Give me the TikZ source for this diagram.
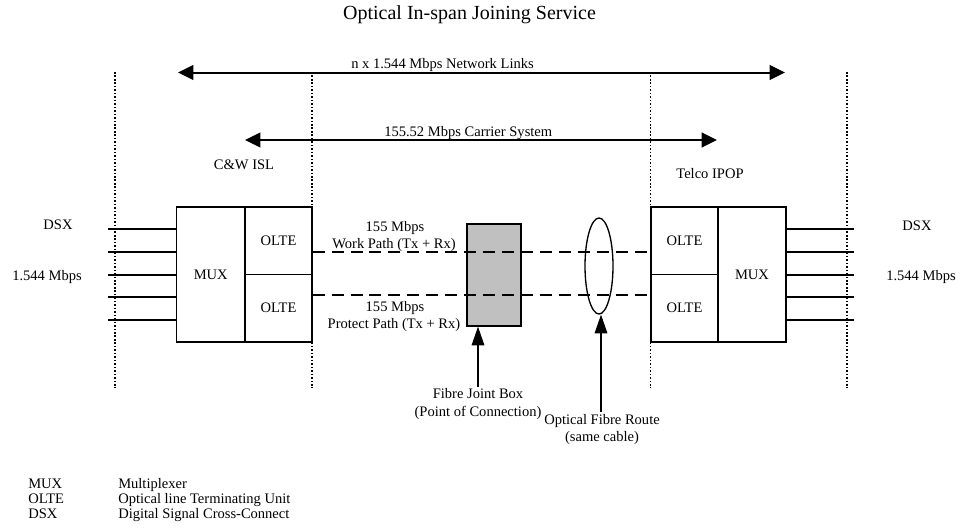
\documentclass[tikz,border=0pt]{standalone}
\usepackage{fontspec}
\setmainfont{Liberation Serif}
\usetikzlibrary{arrows.meta,shapes.geometric}
\begin{document}
\begin{tikzpicture}[x=0.75pt,y=-0.75pt,
  lbl/.style={font=\fontsize{10.9}{12}\selectfont, inner sep=0pt, anchor=base},
  blk/.style={draw, line width=1pt, inner sep=0pt, font=\fontsize{10.9}{12}\selectfont},
  vdot/.style={line width=0.9pt, dash pattern=on 1.2pt off 1.4pt},
  fib/.style={line width=1.1pt, dash pattern=on 9pt off 5.2pt},
  wire/.style={line width=1.1pt},
  big/.style={line width=1.5pt, {Triangle[length=11.5pt,width=11pt]}-{Triangle[length=11.5pt,width=11pt]}},
  ptr/.style={line width=0.8pt, -{Triangle[length=14pt,width=9.5pt]}}]
\useasboundingbox (0,0) rectangle (956,529);

% title
\node[lbl, font=\fontsize{15}{17}\selectfont] (title) at (469.5,19.5) {Optical In-span Joining Service};

% dotted boundaries
\coordinate (d1t) at (115,72);  \coordinate (d1b) at (115,388);
\coordinate (d2t) at (312,72);  \coordinate (d2b) at (312,388);
\coordinate (d3t) at (650.5,72);\coordinate (d3b) at (650.5,388);
\coordinate (d4t) at (847,72);  \coordinate (d4b) at (847,388);
\draw[vdot] (d1t) -- (d1b);
\draw[vdot] (d2t) -- (d2b);
\draw[vdot] (d3t) -- (d3b);
\draw[vdot] (d4t) -- (d4b);

% span arrows
\coordinate (na) at (178,72.5); \coordinate (nb) at (785,72.5);
\draw[big] (na) -- (nb);
\node[lbl, anchor=base west] (nlab) at (351,68.5) {n x 1.544 Mbps Network Links};
\coordinate (ca) at (245,140); \coordinate (cb) at (717,140);
\draw[big] (ca) -- (cb);
\node[lbl, anchor=base west] (clab) at (384,136) {155.52 Mbps Carrier System};

\node[lbl] (cw) at (244,169) {C\&W ISL};
\node[lbl] (telco) at (710,178) {Telco IPOP};

% left equipment
\node[blk, minimum width=51.4pt, minimum height=101.25pt] (lmux) at (210.75,274.5) {MUX};
\node[blk, minimum width=50.25pt, minimum height=50.6pt] (lo1) at (278.5,240.75) {OLTE};
\node[blk, minimum width=50.25pt, minimum height=50.6pt] (lo2) at (278.5,308.25) {OLTE};

% right equipment
\node[blk, minimum width=50.25pt, minimum height=50.6pt] (ro1) at (684.5,240.75) {OLTE};
\node[blk, minimum width=50.25pt, minimum height=50.6pt] (ro2) at (684.5,308.25) {OLTE};
\node[blk, minimum width=51pt, minimum height=101.25pt] (rmux) at (752,274.5) {MUX};

% DSX wires
\foreach \i/\y in {1/229,2/252,3/275,4/297,5/320}{
  \coordinate (lw\i) at (108,\y);
  \coordinate (rw\i) at (854,\y);
  \draw[wire] (lw\i) -- (lw\i -| lmux.west);
  \draw[wire] (rmux.east |- rw\i) -- (rw\i);
}
\node[lbl] (ldsx) at (58,229) {DSX};
\node[lbl] (lrate) at (47,280) {1.544 Mbps};
\node[lbl] (rdsx) at (917,230) {DSX};
\node[lbl] (rrate) at (921,280) {1.544 Mbps};

% joint box (under the fibre paths)
\node[draw, line width=1pt, fill={rgb,255:red,192;green,192;blue,192}, minimum width=40.5pt, minimum height=76.5pt, inner sep=0pt] (jbox) at (494,275) {};

% fibre paths
\coordinate (wk) at (480,252);
\coordinate (pr) at (480,295);
\draw[fib] (lo1.east |- wk) -- (ro1.west |- wk);
\draw[fib] (lo2.east |- pr) -- (ro2.west |- pr);
\node[lbl] (w1) at (395,231) {155 Mbps};
\node[lbl] (w2) at (394,248) {Work Path (Tx + Rx)};
\node[lbl] (p1) at (395,311) {155 Mbps};
\node[lbl] (p2) at (394,328) {Protect Path (Tx + Rx)};

% cable ellipse
\node[draw, line width=1pt, ellipse, minimum width=21pt, minimum height=72pt, inner sep=0pt] (ell) at (599,266) {};

% pointers
\coordinate (ja) at (478,387);
\draw[ptr] (ja) -- (ja |- jbox.south);
\coordinate (oa) at (601,412);
\draw[ptr] (oa) -- (oa |- ell.south);
\node[lbl] (jl1) at (478,398) {Fibre Joint Box};
\node[lbl] (jl2) at (478,416) {(Point of Connection)};
\node[lbl] (ol1) at (602,424) {Optical Fibre Route};
\node[lbl] (ol2) at (602,441) {(same cable)};

% legend
\node[lbl, anchor=base west] (k1) at (28,488) {MUX};
\node[lbl, anchor=base west] (k2) at (28,503) {OLTE};
\node[lbl, anchor=base west] (k3) at (28,518) {DSX};
\node[lbl, anchor=base west] (v1) at (118,488) {Multiplexer};
\node[lbl, anchor=base west] (v2) at (118,503) {Optical line Terminating Unit};
\node[lbl, anchor=base west] (v3) at (118,518) {Digital Signal Cross-Connect};
\end{tikzpicture}
\end{document}
